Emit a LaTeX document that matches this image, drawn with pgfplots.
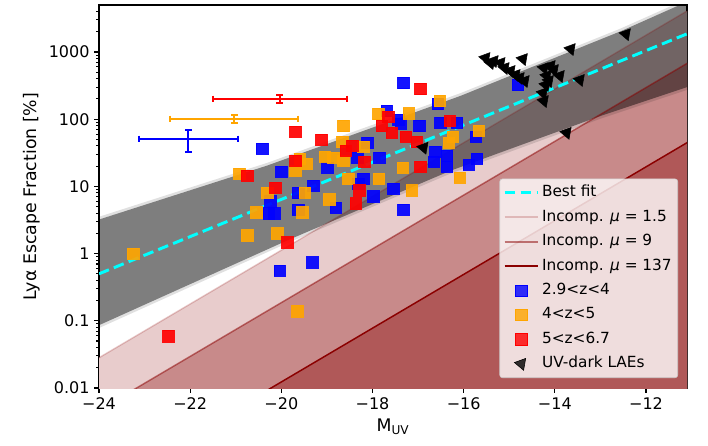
\documentclass[border=0pt]{standalone}
\usepackage{fontspec}
\setmainfont{DejaVu Sans}
\usepackage{pgfplots}
\pgfplotsset{compat=1.18}

\definecolor{lpink}{RGB}{232,204,204}
\definecolor{mpink}{RGB}{200,138,138}
\definecolor{dpink}{RGB}{176,88,88}
\definecolor{dred}{RGB}{139,0,0}
\definecolor{morange}{RGB}{255,165,0}
\definecolor{mblue}{RGB}{0,0,255}
\definecolor{mred}{RGB}{255,0,0}
\definecolor{mcyan}{RGB}{0,255,255}
\definecolor{lgframe}{RGB}{204,204,204}

\pgfplotsset{
  lline/.style={legend image code/.code={\draw[##1] (0pt,0pt) -- (25pt,0pt);}},
  lmark/.style={legend image code/.code={\draw[##1] plot coordinates {(12.5pt,0pt)};}},
  hbar/.style={line width=1.5pt, mark=|, mark size=2.4pt, mark options={solid, line width=1.5pt}},
  vbar/.style={line width=1.5pt, mark=-, mark size=2.4pt, mark options={solid, line width=1.5pt}},
}

\begin{document}
\begin{tikzpicture}
\begin{axis}[
  scale only axis,
  width=441pt, height=287.25pt,
  xmin=-24, xmax=-11.1,
  ymode=log, ymin=0.01, ymax=5000,
  xtick={-24,-22,-20,-18,-16,-14,-12},
  xticklabels={−24,−22,−20,−18,−16,−14,−12},
  ytick={0.01,0.1,1,10,100,1000},
  yticklabels={0.01,0.1,1,10,100,1000},
  minor ytick={0.02,0.03,0.04,0.05,0.06,0.07,0.08,0.09,0.2,0.3,0.4,0.5,0.6,0.7,0.8,0.9,2,3,4,5,6,7,8,9,20,30,40,50,60,70,80,90,200,300,400,500,600,700,800,900,2000,3000,4000},
  minor x tick num=0,
  tick align=outside,
  xtick pos=left, ytick pos=left,
  major tick length=3.6pt, minor tick length=2.1pt,
  every tick/.style={black, line width=0.8pt},
  axis line style={line width=0.8pt},
  tick label style={font=\fontsize{12}{14}\selectfont},
  label style={font=\fontsize{13}{15}\selectfont},
  xlabel={M\textsubscript{UV}},
  ylabel={Lyα Escape Fraction [\%]},
  legend cell align=left,
  legend style={at={(1,0)}, anchor=south east, xshift=-6.75pt, yshift=7.5pt,
    draw=lgframe, fill=white, fill opacity=0.8, text opacity=1,
    rounded corners=2pt, inner sep=2.5pt, row sep=2.3pt,
    font=\fontsize{11.5}{13}\selectfont,
    nodes={inner sep=2pt, text height=9pt, text depth=3pt}},
]
\addlegendimage{lline, mcyan, line width=2.2pt, dash pattern=on 8pt off 4pt}
\addlegendentry{Best fit}
\addlegendimage{lline, dred, draw opacity=0.2, line width=1.5pt}
\addlegendentry{Incomp. \textit{μ} = 1.5}
\addlegendimage{lline, dred, draw opacity=0.5, line width=1.5pt}
\addlegendentry{Incomp. \textit{μ} = 9}
\addlegendimage{lline, dred, line width=1.5pt}
\addlegendentry{Incomp. \textit{μ} = 137}
\addlegendimage{lmark, only marks, mark=square*, mark size=4.3pt, mark options={draw=mblue, fill=mblue}}
\addlegendentry{2.9<z<4}
\addlegendimage{lmark, only marks, mark=square*, mark size=4.3pt, mark options={draw=morange, fill=morange}}
\addlegendentry{4<z<5}
\addlegendimage{lmark, only marks, mark=square*, mark size=4.3pt, mark options={draw=mred, fill=mred}}
\addlegendentry{5<z<6.7}
\addlegendimage{lmark, only marks, mark=triangle*, mark size=5.2pt, mark options={draw=black, fill=black, rotate=200}}
\addlegendentry{UV-dark LAEs}

% incompleteness regions
\addplot[forget plot, draw=none, fill=lpink] coordinates {(-24,0.0282) (-11,4470) (-11,1e-5) (-24,1e-5)} -- cycle;
\addplot[forget plot, draw=none, fill=mpink] coordinates {(-24,0.00468) (-11,741) (-11,1e-5) (-24,1e-5)} -- cycle;
\addplot[forget plot, draw=none, fill=dpink] coordinates {(-24,0.000309) (-11,49) (-11,1e-5) (-24,1e-5)} -- cycle;

% fit uncertainty band
\addplot[forget plot, draw=none, fill=black, fill opacity=0.12] coordinates {
  (-24,3.53) (-20.31,22.4) (-16.07,244) (-12.55,2244) (-11,6600)
  (-11,287) (-12.99,102) (-16.29,15.5) (-19.87,1.43) (-24,0.078)} -- cycle;
\addplot[forget plot, draw=none, fill=black, fill opacity=0.44] coordinates {
  (-24,3.21) (-20.31,20.4) (-16.07,222) (-12.55,2040) (-11,6000)
  (-11,316) (-12.99,112) (-16.29,17.1) (-19.87,1.57) (-24,0.086)} -- cycle;

% incompleteness lines
\addplot[forget plot, dred, draw opacity=0.2, line width=1.1pt] coordinates {(-24,0.0282) (-11,4470)};
\addplot[forget plot, dred, draw opacity=0.5, line width=1.1pt] coordinates {(-24,0.00468) (-11,741)};
\addplot[forget plot, dred, line width=1.1pt] coordinates {(-24,0.000309) (-11,49)};

% best fit
\addplot[forget plot, mcyan, line width=2.2pt, dash pattern=on 8pt off 4pt] coordinates {(-24,0.5) (-11.1,1860)};

% 2.9<z<4
\addplot[forget plot, only marks, mark=square*, mark size=4.3pt, mark options={draw=mblue, fill=mblue, opacity=0.92}] coordinates {
(-20.42,36.4) (-20.00,16.6) (-18.99,19.0) (-20.28,3.95) (-20.15,3.95)
(-20.24,6.0) (-19.63,4.5) (-19.30,10.3) (-19.63,8.0) (-20.04,0.56)
(-19.32,0.74) (-18.81,4.85) (-18.31,11.0) (-17.98,7.1) (-17.54,9.3)
(-17.32,4.5) (-17.85,26.7) (-17.69,133) (-17.32,347) (-17.43,98)
(-17.38,85.5) (-16.97,79.8) (-16.57,169) (-16.51,88.5) (-16.15,88.5)
(-18.11,44.7) (-18.33,26.7) (-16.62,32.8) (-16.37,28.6) (-16.66,23.3)
(-16.37,19.7) (-15.89,21.1) (-15.71,25.8) (-15.74,54.8) (-18.20,13.1)
(-14.81,324)
};
% 4<z<5
\addplot[forget plot, only marks, mark=square*, mark size=4.3pt, mark options={draw=morange, fill=morange, opacity=0.92}] coordinates {
(-23.25,1.0) (-20.92,15.5) (-20.75,1.86) (-20.09,2.0) (-19.65,0.139)
(-20.55,4.1) (-20.31,8.1) (-19.54,4.1) (-19.49,8.1) (-18.95,6.4)
(-18.53,13.1) (-17.86,13.0) (-17.14,8.7) (-16.09,13.5) (-19.69,17.1)
(-19.60,25.8) (-19.45,21.8) (-19.05,27.7) (-18.86,26.7) (-18.64,24.1)
(-18.64,79.8) (-18.66,46) (-18.20,39) (-17.87,120) (-17.21,122)
(-16.53,187) (-16.24,54.8) (-16.33,44.7) (-15.67,67.3) (-17.34,19.0)
};
% 5<z<6.7
\addplot[forget plot, only marks, mark=square*, mark size=4.3pt, mark options={draw=mred, fill=mred, opacity=0.92}] coordinates {
(-22.48,0.059) (-20.75,14.5) (-19.87,1.47) (-20.13,9.6) (-19.69,65)
(-19.12,49.5) (-19.69,24.1) (-18.37,5.6) (-18.29,8.7) (-18.18,23.3)
(-18.59,34) (-18.44,40.3) (-17.65,109) (-17.80,79.8) (-17.58,62.8)
(-17.27,54.8) (-17.03,46) (-16.95,282) (-16.31,95) (-16.95,19.7)
};
% UV-dark LAEs
\addplot[forget plot, only marks, mark=triangle*, mark size=5.2pt, mark options={draw=black, fill=black, rotate=200}] coordinates {
(-15.52,815) (-15.41,687) (-15.34,735) (-15.19,687) (-15.10,579)
(-14.97,523) (-14.86,456) (-14.77,411) (-14.66,371) (-14.70,788)
(-14.24,579) (-14.09,620) (-14.02,541) (-14.18,441) (-14.13,371)
(-13.89,441) (-14.20,324) (-14.26,246) (-14.24,187) (-13.65,1109)
(-13.45,385) (-12.44,1849) (-13.74,62.8) (-16.88,37.7)
};

% stacked error bars (horizontal and vertical ranges)
\addplot[forget plot, mblue, hbar] coordinates {(-23.12,51.2) (-20.95,51.2)};
\addplot[forget plot, mblue, vbar] coordinates {(-22.04,32.8) (-22.04,69.6)};
\addplot[forget plot, morange, hbar] coordinates {(-22.44,101.4) (-19.63,101.4)};
\addplot[forget plot, morange, vbar] coordinates {(-21.03,88.9) (-21.03,113.9)};
\addplot[forget plot, mred, hbar] coordinates {(-21.51,201) (-18.57,201)};
\addplot[forget plot, mred, vbar] coordinates {(-20.04,176) (-20.04,226)};

\coordinate (BL) at (rel axis cs:0,0);
\coordinate (TR) at (rel axis cs:1,1);
\end{axis}
\pgfresetboundingbox
\path[use as bounding box] ([shift={(-74.25pt,-42.75pt)}]BL) rectangle ([shift={(15.75pt,3.75pt)}]TR);
\end{tikzpicture}
\end{document}
